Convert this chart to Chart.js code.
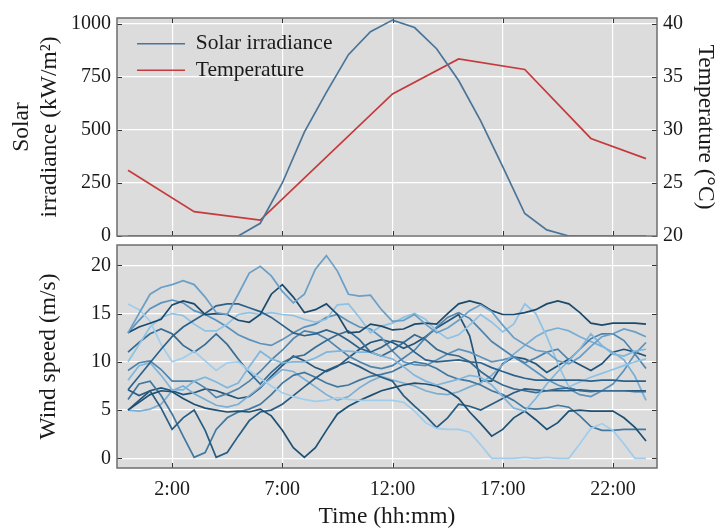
<!DOCTYPE html>
<html>
<head>
<meta charset="utf-8">
<script src="https://cdn.jsdelivr.net/npm/chart.js@4.4.0/dist/chart.umd.min.js"></script>
<style>
  html, body { margin: 0; padding: 0; background: #fff; overflow: hidden; }
  #wrap { position: relative; width: 721px; height: 529px; overflow: hidden; }
  canvas { position: absolute; left: 0; }
  #top { top: 0; }
  #bottom { top: 225px; }
</style>
</head>
<body>
<div id="wrap">
  <canvas id="top" width="721" height="260"></canvas>
  <canvas id="bottom" width="721" height="306"></canvas>
</div>
<script>
// hour ticks on the time axis
const timeTicks = [2, 7, 12, 17, 22];

// solar irradiance, hourly (kW/m2)
const solarHours = [0, 1, 2, 3, 4, 5, 6, 7, 8, 9, 10, 11, 12, 13, 14, 15, 16, 17, 18, 19, 20, 21, 22, 23, 23.5];
const solar = [0, 0, 0, 0, 0, 0, 60, 250, 490, 677, 855, 963, 1018, 983, 883, 733, 543, 327, 106, 29, 0, 0, 0, 0, 0];

// air temperature (deg C)
const tempHours = [0, 3, 6, 12, 15, 18, 21, 23.5];
const temperature = [26.2, 22.3, 21.5, 33.4, 36.7, 35.7, 29.2, 27.3];

const solarTicks = [0, 250, 500, 750, 1000];
const tempTicks = [20, 25, 30, 35, 40];
const windTicks = [0, 5, 10, 15, 20];

// wind speed samples every half hour (m/s)
const windHours = [0, 0.5, 1, 1.5, 2, 2.5, 3, 3.5, 4, 4.5, 5, 5.5, 6, 6.5, 7, 7.5, 8, 8.5, 9, 9.5,
  10, 10.5, 11, 11.5, 12, 12.5, 13, 13.5, 14, 14.5, 15, 15.5, 16, 16.5, 17, 17.5, 18, 18.5, 19, 19.5,
  20, 20.5, 21, 21.5, 22, 22.5, 23, 23.5];

const wind01 = [13.0, 15.0, 17.0, 17.7, 18.0, 18.4, 18.0, 16.7, 15.1, 14.9, 17.0, 19.2, 19.9, 18.9, 17.3, 16.1, 17.0, 19.6, 21.0, 19.4, 17.0, 16.8, 16.9, 15.4, 14.2, 14.3, 14.9, 13.9, 13.0, 13.5, 14.3, 15.3, 15.9, 15.2, 13.8, 12.5, 11.8, 11.2, 11.0, 10.1, 9.8, 10.5, 11.6, 12.6, 12.9, 13.4, 13.1, 12.6];
const wind02 = [13.0, 13.6, 14.0, 14.4, 15.9, 16.3, 16.0, 14.9, 15.0, 14.9, 14.3, 14.1, 14.9, 17.0, 18.0, 16.7, 15.1, 15.4, 16.0, 14.9, 13.0, 13.1, 13.9, 13.7, 13.3, 13.4, 13.9, 14.0, 13.9, 15.0, 16.0, 16.3, 16.0, 15.3, 14.9, 14.9, 15.1, 15.4, 16.0, 16.3, 16.0, 15.1, 14.0, 13.8, 14.0, 14.0, 14.0, 13.9];
const wind03 = [7.1, 8.5, 9.9, 11.3, 12.6, 13.6, 14.3, 15.0, 15.8, 16.0, 16.0, 15.6, 15.2, 14.6, 13.8, 13.0, 12.7, 12.9, 13.3, 12.9, 12.2, 11.4, 11.0, 11.5, 12.2, 12.0, 11.0, 10.2, 10.0, 10.1, 10.2, 10.0, 9.9, 9.4, 9.0, 8.6, 8.3, 8.1, 8.1, 8.1, 8.1, 8.1, 8.0, 8.1, 8.1, 8.0, 8.0, 8.0];
const wind04 = [16.0, 15.4, 14.2, 11.8, 10.0, 10.4, 11.1, 10.1, 9.1, 9.9, 10.0, 9.1, 8.3, 7.5, 6.8, 6.4, 6.1, 5.9, 6.0, 6.3, 6.1, 6.0, 6.0, 6.0, 6.0, 5.8, 4.9, 3.7, 3.1, 3.0, 3.0, 2.7, 1.4, 0.0, 0.0, 0.0, 0.1, 0.0, 0.1, 0.0, 0.0, 1.5, 3.1, 3.6, 2.9, 1.5, 0.0, 0.0];
const wind05 = [10.0, 11.8, 13.6, 14.6, 15.0, 14.8, 13.9, 13.2, 13.2, 13.9, 14.9, 15.1, 14.9, 15.1, 14.9, 14.8, 14.4, 14.1, 14.4, 15.9, 16.0, 14.6, 13.0, 13.7, 14.0, 14.6, 15.0, 14.4, 13.2, 12.4, 12.8, 13.8, 14.9, 14.1, 13.1, 13.9, 16.0, 15.0, 12.6, 9.8, 7.4, 7.9, 8.4, 8.8, 9.2, 9.6, 10.0, 10.3];
const wind06 = [8.1, 9.6, 9.9, 8.6, 7.1, 7.1, 8.0, 8.4, 7.9, 7.3, 7.8, 9.5, 11.1, 10.3, 9.9, 10.0, 10.0, 10.4, 11.0, 11.1, 11.1, 11.0, 11.0, 10.6, 10.3, 9.5, 8.6, 8.0, 7.6, 7.9, 8.2, 8.6, 8.4, 7.6, 6.4, 5.2, 4.9, 6.2, 7.7, 9.0, 10.1, 11.3, 12.9, 11.7, 10.8, 10.6, 11.1, 11.3];
const wind07 = [11.0, 12.0, 12.9, 13.4, 12.9, 11.7, 11.0, 11.8, 12.9, 11.8, 10.3, 8.9, 7.7, 8.9, 9.9, 10.5, 10.7, 11.5, 12.2, 12.8, 13.2, 12.3, 11.0, 10.6, 11.2, 12.0, 12.8, 12.3, 11.3, 10.8, 10.6, 10.0, 9.0, 8.2, 7.6, 7.2, 7.0, 6.8, 7.0, 7.2, 7.3, 7.0, 6.9, 7.0, 7.0, 7.0, 6.9, 6.9];
const wind08 = [9.1, 9.9, 10.1, 9.2, 8.0, 8.0, 8.0, 7.3, 6.3, 6.7, 7.2, 8.0, 9.0, 10.2, 11.2, 12.4, 13.2, 13.0, 12.4, 11.5, 10.6, 10.0, 9.5, 9.3, 9.6, 10.4, 11.2, 12.5, 13.6, 14.6, 15.1, 14.5, 13.3, 12.1, 11.3, 10.5, 9.9, 10.4, 11.0, 11.3, 10.2, 11.3, 12.4, 12.9, 12.9, 12.2, 10.8, 9.3];
const wind09 = [5.0, 5.8, 6.6, 7.0, 6.9, 6.2, 5.6, 5.2, 5.0, 4.8, 4.9, 4.8, 5.1, 4.4, 2.9, 1.1, 0.1, 1.1, 2.9, 4.6, 5.4, 6.0, 6.5, 7.0, 7.3, 7.6, 7.8, 7.7, 7.5, 7.0, 6.2, 4.8, 3.6, 2.3, 3.0, 4.2, 4.9, 4.0, 3.0, 3.7, 4.9, 5.0, 4.9, 4.9, 4.9, 4.2, 3.2, 1.8];
const wind10 = [7.1, 6.5, 7.0, 5.2, 3.0, 4.2, 5.0, 2.9, 0.1, 0.6, 2.3, 3.9, 4.8, 5.0, 5.6, 6.5, 7.4, 8.3, 9.1, 9.6, 10.0, 9.5, 8.9, 8.4, 8.0, 6.5, 5.4, 4.4, 3.2, 4.2, 5.6, 5.4, 5.0, 5.6, 6.2, 6.8, 7.2, 7.1, 7.0, 7.0, 7.0, 7.1, 7.0, 7.0, 7.0, 7.0, 7.0, 7.0];
const wind11 = [6.1, 7.7, 8.0, 6.5, 4.6, 2.3, 0.1, 0.6, 3.0, 4.2, 4.8, 5.1, 5.6, 6.6, 7.8, 8.6, 8.9, 8.4, 7.8, 7.4, 7.6, 8.1, 8.5, 8.7, 9.0, 9.6, 10.0, 9.8, 9.3, 8.6, 8.2, 8.0, 7.6, 7.0, 6.6, 6.0, 5.2, 5.1, 5.2, 5.5, 5.3, 4.4, 3.3, 2.9, 2.9, 3.0, 3.0, 3.0];
const wind12 = [5.0, 4.9, 5.1, 5.6, 7.0, 7.5, 6.7, 6.1, 5.5, 5.3, 5.6, 6.5, 7.4, 8.3, 9.2, 9.0, 8.2, 7.4, 6.6, 6.0, 6.4, 7.3, 8.0, 8.5, 8.1, 7.8, 7.5, 7.0, 6.7, 6.6, 6.9, 7.4, 7.8, 8.6, 9.7, 10.8, 11.7, 12.6, 13.2, 13.5, 13.2, 12.6, 12.1, 11.6, 11.0, 10.2, 8.5, 6.0];
const wind13 = [13.0, 14.3, 15.5, 16.1, 16.4, 16.1, 15.3, 14.9, 14.3, 13.6, 12.8, 12.3, 11.9, 11.7, 12.3, 13.0, 13.6, 13.9, 14.6, 14.9, 14.2, 13.6, 13.4, 12.5, 11.1, 10.0, 9.7, 9.6, 10.2, 10.8, 11.3, 11.0, 10.5, 10.0, 10.2, 10.5, 9.8, 9.0, 8.2, 7.6, 7.2, 6.6, 6.4, 7.0, 7.7, 9.1, 10.8, 12.0];
const wind14 = [5.0, 6.0, 7.0, 7.3, 7.0, 6.6, 6.8, 7.2, 7.0, 6.6, 6.2, 6.4, 7.3, 8.5, 9.6, 10.6, 10.1, 9.4, 9.0, 9.5, 10.4, 11.3, 12.0, 12.3, 12.0, 11.4, 11.9, 12.6, 13.5, 14.2, 14.9, 12.7, 8.0, 8.0, 9.8, 10.5, 10.3, 9.8, 8.9, 9.6, 10.3, 9.7, 9.1, 9.8, 11.0, 11.3, 11.0, 10.6];

const windSeries = [wind01, wind02, wind03, wind04, wind05, wind06, wind07, wind08, wind09, wind10, wind11, wind12, wind13, wind14];
const windColors = ['#6a9fc7', '#1b4a6d', '#2d6189', '#a0cdec', '#8ec2e5', '#7eb6dd', '#376c93',
  '#4e84ad', '#1f5073', '#285c82', '#41789f', '#7aaed4', '#5c92bb', '#23557a'];

const solarColor = '#4a7598';
const tempColor = '#c43b3d';
const serif = "'Liberation Serif', 'Times New Roman', serif";
const tickFont = { family: serif, size: 20 };
const titleFont = { family: serif, size: 23.5 };
const inkColor = '#1a1a1a';

const toPoints = (xs, ys) => xs.map((x, i) => ({ x: x, y: ys[i] }));
const fixTicks = (values) => (scale) => { scale.ticks = values.map(v => ({ value: v })); };
const plainNumber = (v) => String(v);

// grey panel, inward tick marks and the dark frame
const panelFrame = {
  id: 'panelFrame',
  beforeDraw(chart) {
    const { ctx, chartArea: a } = chart;
    ctx.save();
    ctx.fillStyle = '#dcdcdc';
    ctx.fillRect(a.left, a.top, a.width, a.height);
    ctx.restore();
  },
  beforeDatasetsDraw(chart) {
    const { ctx, chartArea: a, scales } = chart;
    const len = 5;
    ctx.save();
    ctx.strokeStyle = '#333333';
    ctx.lineWidth = 1;
    ctx.beginPath();
    scales.x.ticks.forEach(t => {
      const px = Math.round(scales.x.getPixelForValue(t.value)) + 0.5;
      ctx.moveTo(px, a.bottom); ctx.lineTo(px, a.bottom - len);
      ctx.moveTo(px, a.top); ctx.lineTo(px, a.top + len);
    });
    const leftScale = scales.y;
    const rightScale = scales.y1 || scales.y;
    leftScale.ticks.forEach(t => {
      const py = Math.round(leftScale.getPixelForValue(t.value)) + 0.5;
      ctx.moveTo(a.left, py); ctx.lineTo(a.left + len, py);
    });
    rightScale.ticks.forEach(t => {
      const py = Math.round(rightScale.getPixelForValue(t.value)) + 0.5;
      ctx.moveTo(a.right, py); ctx.lineTo(a.right - len, py);
    });
    ctx.stroke();
    ctx.restore();
  },
  afterDatasetsDraw(chart) {
    const { ctx, chartArea: a } = chart;
    ctx.save();
    ctx.strokeStyle = '#6e6e6e';
    ctx.lineWidth = 1.5;
    ctx.strokeRect(a.left, a.top, a.width, a.height);
    ctx.restore();
  }
};

// move the legend a little into the panel
const legendNudge = {
  id: 'legendNudge',
  afterLayout(chart) {
    chart.legend.left += 15;
    chart.legend.top += 28;
  }
};

const timeAxis = (showLabels, height) => ({
  type: 'linear',
  min: -0.5,
  max: 24,
  afterBuildTicks: fixTicks(timeTicks),
  afterFit: (s) => { s.height = height; },
  border: { display: false },
  grid: { color: '#ffffff', lineWidth: 1.2, drawTicks: false },
  ticks: {
    display: showLabels,
    font: tickFont,
    color: inkColor,
    padding: 10,
    callback: (v) => v + ':00'
  },
  title: {
    display: showLabels,
    text: 'Time (hh:mm)',
    font: titleFont,
    color: inkColor,
    padding: { top: 0, bottom: 0 }
  }
});

new Chart(document.getElementById('top'), {
  type: 'line',
  data: {
    datasets: [
      {
        label: 'Solar irradiance',
        data: toPoints(solarHours, solar),
        yAxisID: 'y',
        borderColor: solarColor,
        backgroundColor: solarColor,
        borderWidth: 1.7,
        pointRadius: 0,
        tension: 0
      },
      {
        label: 'Temperature',
        data: toPoints(tempHours, temperature),
        yAxisID: 'y1',
        borderColor: tempColor,
        backgroundColor: tempColor,
        borderWidth: 1.7,
        pointRadius: 0,
        tension: 0
      }
    ]
  },
  options: {
    responsive: false,
    animation: false,
    layout: { padding: { top: 14, left: 0, right: 0, bottom: 0 } },
    plugins: {
      tooltip: { enabled: false },
      legend: {
        position: 'chartArea',
        align: 'start',
        labels: {
          font: { family: serif, size: 21.5 },
          color: inkColor,
          boxWidth: 48,
          boxHeight: 0,
          padding: 5
        }
      }
    },
    scales: {
      x: timeAxis(false, 24),
      y: {
        position: 'left',
        min: 0,
        max: 1028,
        afterBuildTicks: fixTicks(solarTicks),
        afterFit: (s) => { s.width = 117; },
        border: { display: false },
        grid: { color: '#ffffff', lineWidth: 1.2, drawTicks: false },
        ticks: { font: tickFont, color: inkColor, padding: 6, callback: plainNumber },
        title: {
          display: true,
          text: ['Solar', 'irradiance (kW/m²)'],
          font: titleFont,
          color: inkColor,
          padding: { top: 8, bottom: 0 }
        }
      },
      y1: {
        position: 'right',
        min: 20,
        max: 40.56,
        afterBuildTicks: fixTicks(tempTicks),
        afterFit: (s) => { s.width = 64; },
        border: { display: false },
        grid: { display: false, drawTicks: false },
        ticks: { font: tickFont, color: inkColor, padding: 6, callback: plainNumber },
        title: {
          display: true,
          text: 'Temperature (°C)',
          font: titleFont,
          color: inkColor,
          padding: { top: 2, bottom: 0 }
        }
      }
    }
  },
  plugins: [panelFrame, legendNudge]
});

new Chart(document.getElementById('bottom'), {
  type: 'line',
  data: {
    datasets: windSeries.map((values, i) => ({
      label: 'Wind ' + (i + 1),
      data: toPoints(windHours, values),
      borderColor: windColors[i],
      borderWidth: 1.7,
      pointRadius: 0,
      tension: 0
    }))
  },
  options: {
    responsive: false,
    animation: false,
    layout: { padding: { top: 20, left: 0, right: 64, bottom: 0 } },
    plugins: {
      tooltip: { enabled: false },
      legend: { display: false }
    },
    scales: {
      x: timeAxis(true, 63),
      y: {
        position: 'left',
        min: -1,
        max: 22.1,
        afterBuildTicks: fixTicks(windTicks),
        afterFit: (s) => { s.width = 117; },
        border: { display: false },
        grid: { color: '#ffffff', lineWidth: 1.2, drawTicks: false },
        ticks: { font: tickFont, color: inkColor, padding: 6, callback: plainNumber },
        title: {
          display: true,
          text: 'Wind speed (m/s)',
          font: titleFont,
          color: inkColor,
          padding: { top: 35, bottom: 0 }
        }
      }
    }
  },
  plugins: [panelFrame]
});
</script>
</body>
</html>
